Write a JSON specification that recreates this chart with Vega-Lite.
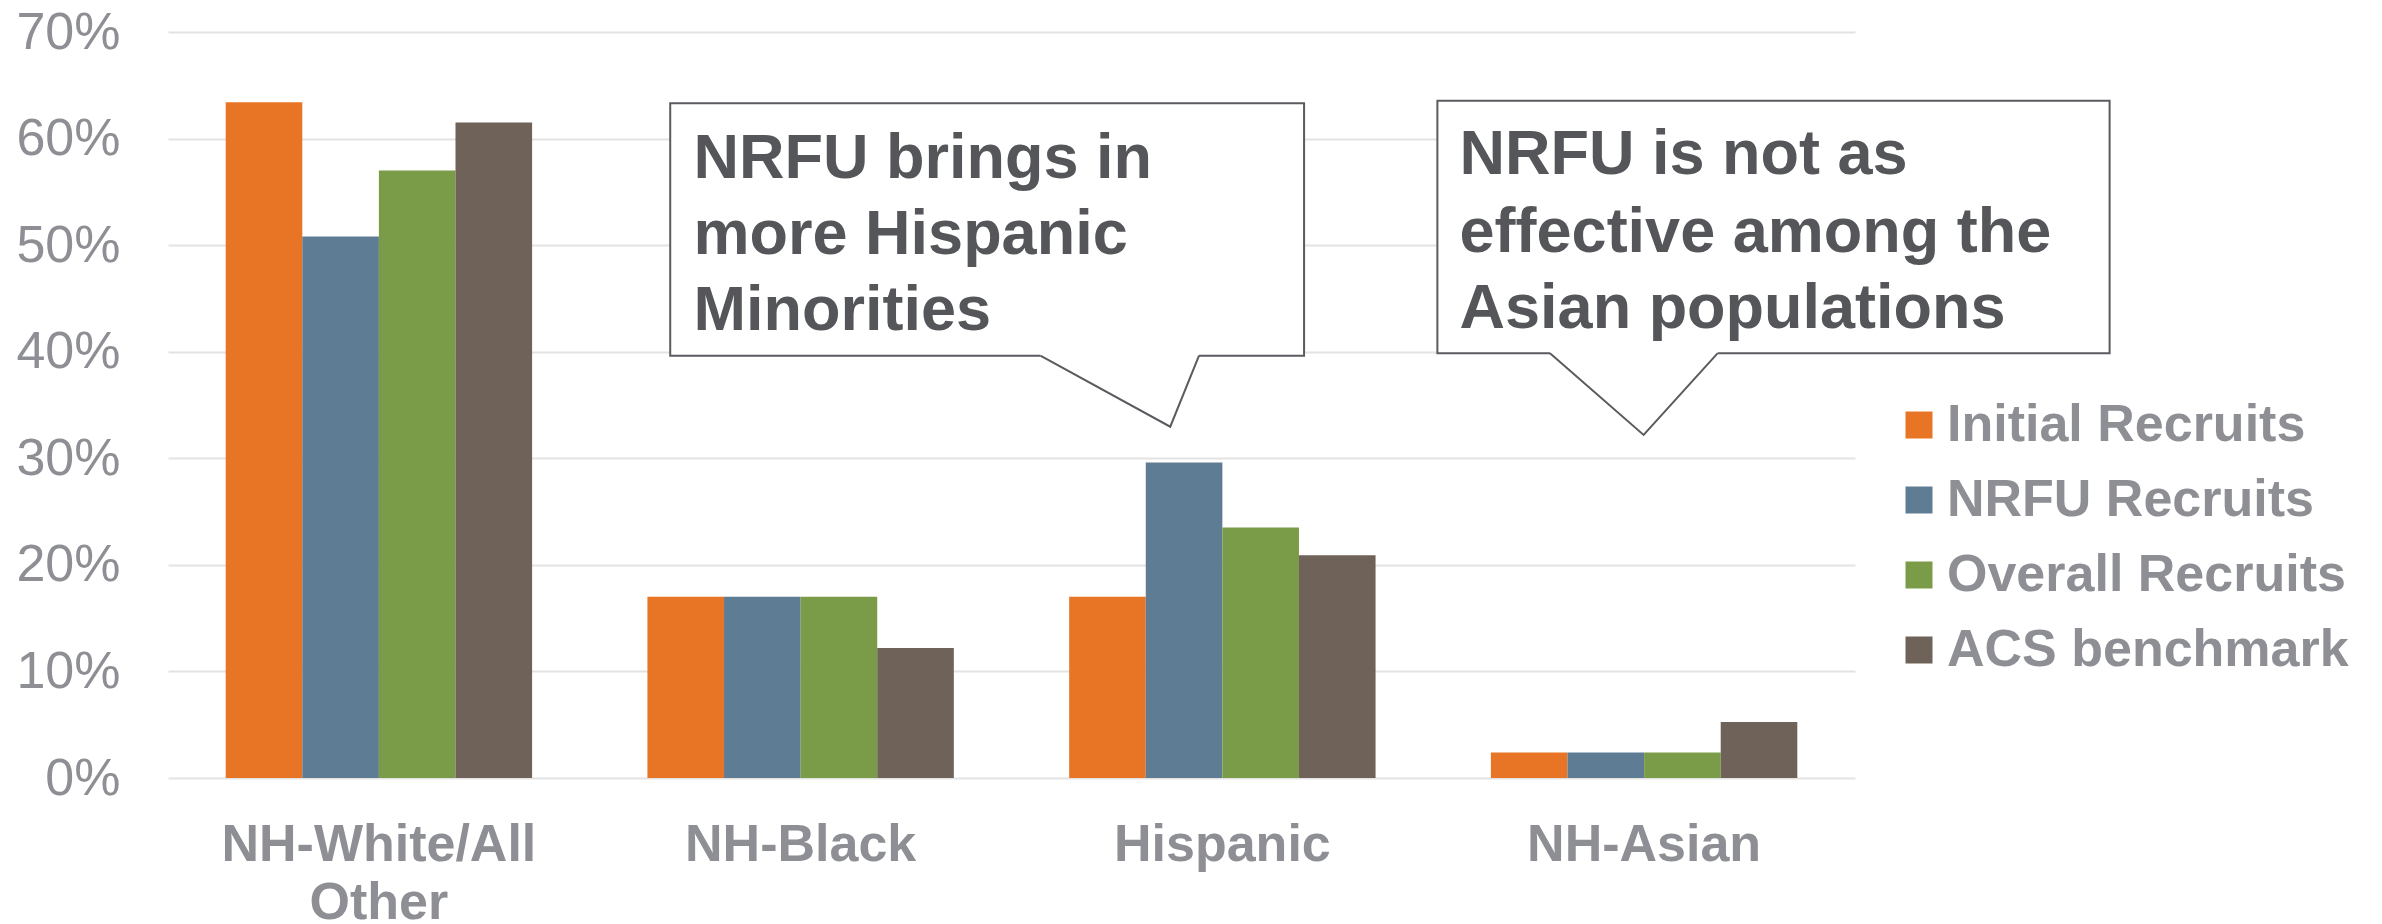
{
  "$schema": "https://vega.github.io/schema/vega-lite/v6.json",
  "autosize": "none",
  "width": 1687,
  "height": 746,
  "padding": {"left": 168, "top": 32, "right": 527, "bottom": 146},
  "background": "white",
  "config": {
    "view": {"stroke": null},
    "font": "Liberation Sans"
  },
  "datasets": {
    "bars": [
      {"group": "NH-White/All Other", "series": "Initial Recruits", "value": 63.4},
      {"group": "NH-White/All Other", "series": "NRFU Recruits", "value": 50.8},
      {"group": "NH-White/All Other", "series": "Overall Recruits", "value": 57.0},
      {"group": "NH-White/All Other", "series": "ACS benchmark", "value": 61.5},
      {"group": "NH-Black", "series": "Initial Recruits", "value": 17.0},
      {"group": "NH-Black", "series": "NRFU Recruits", "value": 17.0},
      {"group": "NH-Black", "series": "Overall Recruits", "value": 17.0},
      {"group": "NH-Black", "series": "ACS benchmark", "value": 12.2},
      {"group": "Hispanic", "series": "Initial Recruits", "value": 17.0},
      {"group": "Hispanic", "series": "NRFU Recruits", "value": 29.6},
      {"group": "Hispanic", "series": "Overall Recruits", "value": 23.5},
      {"group": "Hispanic", "series": "ACS benchmark", "value": 20.9},
      {"group": "NH-Asian", "series": "Initial Recruits", "value": 2.4},
      {"group": "NH-Asian", "series": "NRFU Recruits", "value": 2.4},
      {"group": "NH-Asian", "series": "Overall Recruits", "value": 2.4},
      {"group": "NH-Asian", "series": "ACS benchmark", "value": 5.25}
    ],
    "boxes": [
      {"id": "a", "x1": 1.1908, "x2": 2.6937, "y1": 39.63, "y2": 63.31},
      {"id": "b", "x1": 3.0098, "x2": 4.6037, "y1": 39.85, "y2": 63.55}
    ],
    "gaps": [
      {"id": "a", "xa": 2.0685, "xb": 2.4446, "y": 39.63},
      {"id": "b", "xa": 3.2768, "xb": 3.674, "y": 39.85}
    ],
    "pointers": [
      {"id": "a", "ord": 1, "x": 2.0685, "y": 39.63},
      {"id": "a", "ord": 2, "x": 2.3764, "y": 32.96},
      {"id": "a", "ord": 3, "x": 2.4446, "y": 39.63},
      {"id": "b", "ord": 1, "x": 3.2768, "y": 39.85},
      {"id": "b", "ord": 2, "x": 3.4988, "y": 32.19},
      {"id": "b", "ord": 3, "x": 3.674, "y": 39.85}
    ],
    "texts": [
      {"id": "a", "x": 1.2461, "y": 56.33, "text": "NRFU brings in"},
      {"id": "a", "x": 1.2461, "y": 49.17, "text": "more Hispanic"},
      {"id": "a", "x": 1.2461, "y": 42.04, "text": "Minorities"},
      {"id": "b", "x": 3.0624, "y": 56.65, "text": "NRFU is not as"},
      {"id": "b", "x": 3.0624, "y": 49.39, "text": "effective among the"},
      {"id": "b", "x": 3.0624, "y": 42.2, "text": "Asian populations"}
    ]
  },
  "layer": [
    {
      "data": {"name": "bars"},
      "mark": {"type": "bar"},
      "encoding": {
        "x": {
          "field": "group",
          "type": "nominal",
          "sort": ["NH-White/All Other", "NH-Black", "Hispanic", "NH-Asian"],
          "scale": {"paddingInner": 0.2735, "paddingOuter": 0.1368},
          "axis": {
            "title": null,
            "domain": false,
            "ticks": false,
            "labelAngle": 0,
            "labelFont": "Liberation Sans",
            "labelFontWeight": "bold",
            "labelFontSize": 52,
            "labelColor": "#8e8f94",
            "labelPadding": 41,
            "labelBaseline": "top",
            "labelLineHeight": 58,
            "labelLimit": 0,
            "labelOverlap": false,
            "labelExpr": "datum.label == 'NH-White/All Other' ? ['NH-White/All', 'Other'] : datum.label"
          }
        },
        "xOffset": {
          "field": "series",
          "type": "nominal",
          "sort": ["Initial Recruits", "NRFU Recruits", "Overall Recruits", "ACS benchmark"],
          "scale": {"paddingInner": 0, "paddingOuter": 0}
        },
        "y": {
          "field": "value",
          "type": "quantitative",
          "scale": {"domain": [0, 70], "nice": false},
          "axis": {
            "title": null,
            "domain": false,
            "ticks": false,
            "values": [0, 10, 20, 30, 40, 50, 60, 70],
            "labelExpr": "datum.value + '%'",
            "labelFont": "Liberation Sans",
            "labelFontSize": 52,
            "labelColor": "#8e8f94",
            "labelPadding": 48,
            "grid": true,
            "gridColor": "#e3e3e3",
            "gridWidth": 2
          }
        },
        "color": {
          "field": "series",
          "type": "nominal",
          "sort": ["Initial Recruits", "NRFU Recruits", "Overall Recruits", "ACS benchmark"],
          "scale": {
            "domain": ["Initial Recruits", "NRFU Recruits", "Overall Recruits", "ACS benchmark"],
            "range": ["#e87525", "#5e7d95", "#7a9c49", "#6e6259"]
          },
          "legend": {
            "title": null,
            "orient": "none",
            "legendX": 1725,
            "legendY": 367,
            "padding": 0,
            "symbolType": "square",
            "symbolSize": 729,
            "symbolStrokeWidth": 0,
            "labelFont": "Liberation Sans",
            "labelFontWeight": "bold",
            "labelFontSize": 52,
            "labelColor": "#8e8f94",
            "labelOffset": 2,
            "rowPadding": 23,
            "labelLimit": 600
          }
        }
      }
    },
    {
      "layer": [
        {
          "data": {"name": "boxes"},
          "mark": {"type": "rect", "fill": "white", "stroke": "#5a5b5f", "strokeWidth": 2, "clip": false},
          "encoding": {
            "x": {"field": "x1", "type": "quantitative", "scale": {"domain": [0, 4], "nice": false, "zero": false}, "axis": null},
            "x2": {"field": "x2"},
            "y": {"field": "y1", "type": "quantitative"},
            "y2": {"field": "y2"}
          }
        },
        {
          "data": {"name": "gaps"},
          "mark": {"type": "rule", "stroke": "white", "strokeWidth": 4},
          "encoding": {
            "x": {"field": "xa", "type": "quantitative"},
            "x2": {"field": "xb"},
            "y": {"field": "y", "type": "quantitative"}
          }
        },
        {
          "data": {"name": "pointers"},
          "mark": {"type": "line", "stroke": "#5a5b5f", "strokeWidth": 2},
          "encoding": {
            "x": {"field": "x", "type": "quantitative"},
            "y": {"field": "y", "type": "quantitative"},
            "detail": {"field": "id"},
            "order": {"field": "ord", "type": "quantitative"}
          }
        },
        {
          "data": {"name": "texts"},
          "mark": {"type": "text", "align": "left", "baseline": "alphabetic", "font": "Liberation Sans", "fontWeight": "bold", "fontSize": 63, "fill": "#55565a"},
          "encoding": {
            "x": {"field": "x", "type": "quantitative"},
            "y": {"field": "y", "type": "quantitative"},
            "text": {"field": "text"}
          }
        }
      ]
    }
  ],
  "resolve": {"scale": {"x": "independent"}}
}
